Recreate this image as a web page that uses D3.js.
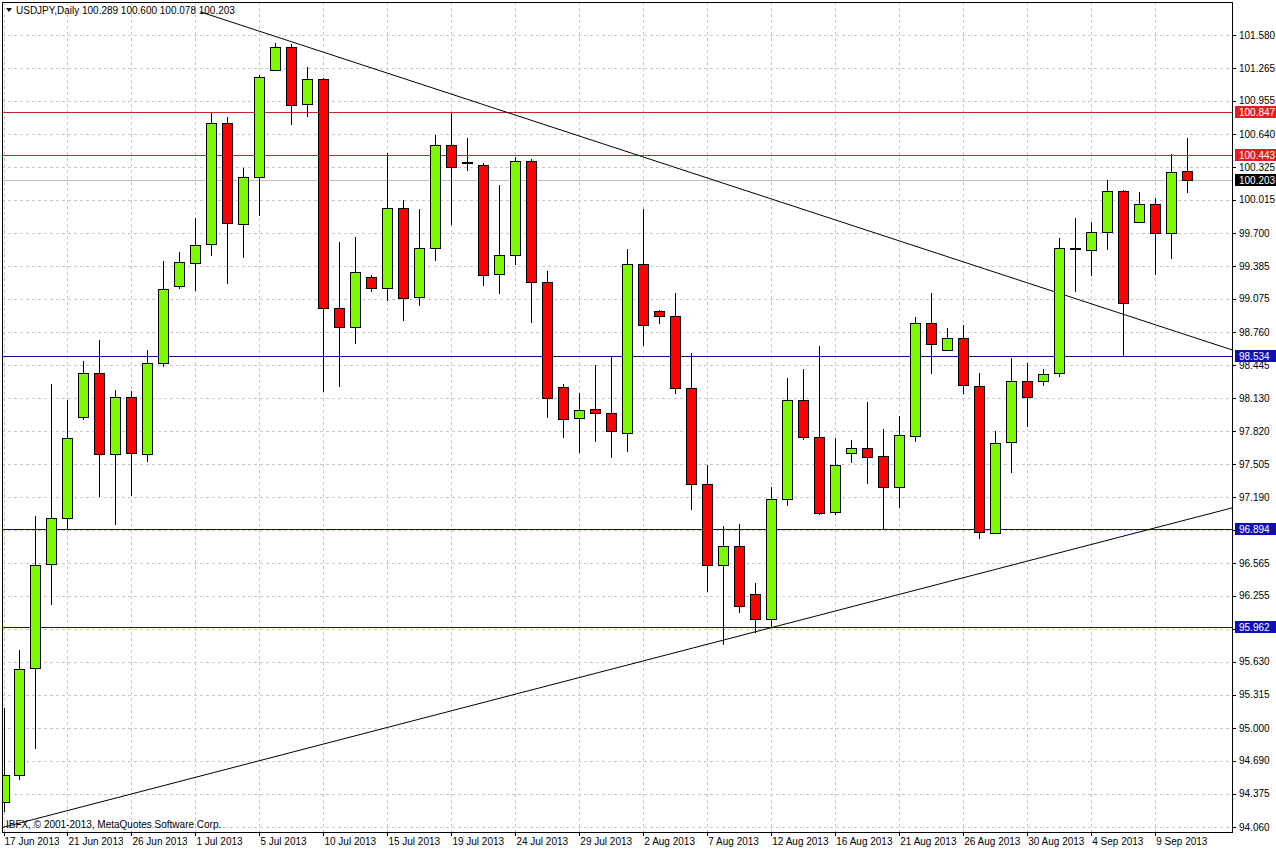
<!DOCTYPE html>
<html><head><meta charset="utf-8">
<script src="https://cdn.jsdelivr.net/npm/d3@7"></script>
<style>body{margin:0;background:#fff}svg{display:block;font-family:"Liberation Sans",Arial,sans-serif}</style>
</head><body><svg id="c" width="1276" height="849"></svg>
<script>
// OHLC per bar (index 0 = 17 Jun 2013)
const opens  = [94.29,94.55,95.57,96.55,96.99,97.95,98.37,97.60,98.14,97.61,98.47,99.19,99.42,99.59,100.74,99.78,100.23,101.25,101.47,100.92,101.16,98.99,98.81,99.28,99.18,99.94,99.09,99.56,100.54,100.37,100.35,99.31,99.49,100.38,99.23,98.24,97.94,98.03,97.99,97.81,99.41,98.96,98.91,98.23,97.32,96.55,96.73,96.27,96.03,97.17,98.11,97.76,97.05,97.61,97.66,97.58,97.29,97.78,98.85,98.59,98.70,98.25,96.86,97.71,98.29,98.29,98.37,99.55,99.54,99.71,100.10,99.81,99.98,99.70,100.289];
const highs  = [95.19,95.74,97.01,98.27,98.11,98.48,98.68,98.21,98.20,98.59,99.43,99.52,99.84,100.84,100.80,100.32,101.20,101.50,101.49,101.28,101.17,99.61,99.66,99.30,100.46,100.01,99.93,100.63,100.84,100.60,100.36,100.16,100.42,100.40,99.34,98.27,98.18,98.45,98.52,99.55,99.93,98.97,99.13,98.56,97.50,96.92,96.94,96.38,97.29,98.32,98.41,98.63,97.75,97.73,98.10,97.84,97.96,98.90,99.13,98.80,98.83,98.37,97.82,98.51,98.47,98.41,99.65,99.84,99.80,100.20,100.11,100.09,100.03,100.45,100.600];
const lows   = [94.20,94.51,94.80,96.17,96.88,97.92,97.19,96.93,97.20,97.53,98.43,99.17,99.15,99.48,99.22,99.46,99.86,101.24,100.73,100.80,98.19,98.24,98.65,99.14,99.05,98.86,99.01,99.43,99.78,100.29,99.20,99.12,99.40,98.85,97.94,97.75,97.61,97.72,97.56,97.62,98.63,98.84,98.17,97.07,96.29,95.79,96.09,95.90,95.95,97.11,97.73,97.02,97.02,97.52,97.32,96.88,97.09,97.72,98.36,98.59,98.17,96.79,96.85,97.42,97.86,98.25,98.33,99.14,99.29,99.54,98.52,99.80,99.30,99.45,100.078];
const closes = [94.55,95.56,96.55,96.99,97.75,98.37,97.60,98.14,97.61,98.47,99.17,99.42,99.59,100.74,99.79,100.23,101.18,101.47,100.92,101.16,98.99,98.81,99.33,99.18,99.94,99.09,99.56,100.54,100.33,100.36,99.31,99.49,100.38,99.23,98.13,97.94,98.02,97.99,97.82,99.41,98.83,98.91,98.23,97.32,96.55,96.73,96.16,96.03,97.17,98.11,97.76,97.04,97.50,97.66,97.57,97.29,97.78,98.85,98.65,98.70,98.25,96.86,97.71,98.29,98.14,98.36,99.56,99.56,99.71,100.10,99.04,99.98,99.70,100.28,100.203];
const xLabels = ["17 Jun 2013","21 Jun 2013","26 Jun 2013","1 Jul 2013","5 Jul 2013","10 Jul 2013","15 Jul 2013","19 Jul 2013","24 Jul 2013","29 Jul 2013","2 Aug 2013","7 Aug 2013","12 Aug 2013","16 Aug 2013","21 Aug 2013","26 Aug 2013","30 Aug 2013","4 Sep 2013","9 Sep 2013"];
const yTicks = [101.580,101.265,100.955,100.640,100.325,100.015,99.700,99.385,99.075,98.760,98.445,98.130,97.820,97.505,97.190,96.880,96.565,96.255,95.940,95.630,95.315,95.000,94.690,94.375,94.060];
const redLevels = [100.847,100.443];
const blueLevels = [98.534,96.894,95.962];
const trendUpper = [[12.3,101.80],[76.8,98.59]];
const trendLower = [[-0.2,94.05],[76.8,97.09]];
const lastPrice = 100.203;

const svg = d3.select("#c");
const L=2,R=1232,T=2,B=832;
const x = d3.scaleLinear().domain([0,76.8]).range([3.5,1232]);
const y = d3.scaleLinear().domain([94.06,101.58]).range([827,35]);
const g = svg.append("g");
g.append("defs").append("clipPath").attr("id","cp").append("rect").attr("x",L).attr("y",T).attr("width",R-L).attr("height",B-T);
const grid = g.append("g").attr("stroke","#c8c8c8").attr("stroke-dasharray","3,3").attr("shape-rendering","crispEdges");
yTicks.forEach(v=>grid.append("line").attr("x1",L).attr("x2",R).attr("y1",Math.round(y(v))+0.5).attr("y2",Math.round(y(v))+0.5));
xLabels.forEach((t,i)=>grid.append("line").attr("x1",Math.round(x(i*4))+0.5).attr("x2",Math.round(x(i*4))+0.5).attr("y1",T).attr("y2",B));
const plot = g.append("g").attr("clip-path","url(#cp)");
redLevels.forEach(v=>plot.append("line").attr("x1",L).attr("x2",R).attr("y1",Math.round(y(v))+0.5).attr("y2",Math.round(y(v))+0.5).attr("stroke","#c0282d"));
blueLevels.forEach(v=>plot.append("line").attr("x1",L).attr("x2",R).attr("y1",Math.round(y(v))+0.5).attr("y2",Math.round(y(v))+0.5).attr("stroke","#10107f"));
plot.append("line").attr("x1",L).attr("x2",R).attr("y1",Math.round(y(lastPrice))+0.5).attr("y2",Math.round(y(lastPrice))+0.5).attr("stroke","#c0c0c0");
[trendUpper,trendLower].forEach(tl=>plot.append("line").attr("x1",x(tl[0][0])).attr("y1",y(tl[0][1])).attr("x2",x(tl[1][0])).attr("y2",y(tl[1][1])).attr("stroke","#000"));
const idx = d3.range(opens.length);
const cg = plot.append("g").attr("shape-rendering","crispEdges");
cg.selectAll(".w").data(idx).join("line").attr("x1",i=>Math.round(x(i))+0.5).attr("x2",i=>Math.round(x(i))+0.5)
  .attr("y1",i=>y(highs[i])).attr("y2",i=>y(lows[i])).attr("stroke","#000");
cg.selectAll(".b").data(idx).join("rect").attr("x",i=>Math.round(x(i))-4.5).attr("width",10)
  .attr("y",i=>Math.round(y(Math.max(opens[i],closes[i])))+0.5)
  .attr("height",i=>Math.max(1,Math.round(Math.abs(y(opens[i])-y(closes[i])))))
  .attr("fill",i=>closes[i]>=opens[i]?"#7cfc00":"#ff0000").attr("stroke","#000");
g.append("rect").attr("x",L+0.5).attr("y",T+0.5).attr("width",R-L).attr("height",B-T).attr("fill","none").attr("stroke","#000").attr("shape-rendering","crispEdges");
const ya = g.append("g").attr("font-size",10).attr("fill","#000");
yTicks.forEach(v=>{
  ya.append("line").attr("x1",R).attr("x2",R+4).attr("y1",Math.round(y(v))+0.5).attr("y2",Math.round(y(v))+0.5).attr("stroke","#000");
  ya.append("text").attr("x",1239).attr("y",y(v)+3.5).text(v.toFixed(3));});
function tag(v,bg){const yy=Math.round(y(v));
  ya.append("rect").attr("x",R+3).attr("y",yy-6).attr("width",41).attr("height",12).attr("fill",bg);
  ya.append("text").attr("x",1239).attr("y",yy+4).attr("fill","#fff").text(v.toFixed(3));}
redLevels.forEach(v=>tag(v,"#e02020"));
blueLevels.forEach(v=>tag(v,"#1010b0"));
tag(lastPrice,"#000");
const xa = g.append("g").attr("font-size",10);
xLabels.forEach((t,i)=>{xa.append("line").attr("x1",Math.round(x(i*4))+0.5).attr("x2",Math.round(x(i*4))+0.5).attr("y1",B).attr("y2",B+4).attr("stroke","#000");
  xa.append("text").attr("x",x(i*4)+1).attr("y",845).text(t);});
g.append("path").attr("d","M6,8 L12,8 L9,12 Z").attr("fill","#000");
g.append("text").attr("x",16).attr("y",14).attr("font-size",10).text("USDJPY,Daily  100.289 100.600 100.078 100.203");
g.append("text").attr("x",6).attr("y",828).attr("font-size",10).text("IBFX, © 2001-2013, MetaQuotes Software Corp.");
</script></body></html>
